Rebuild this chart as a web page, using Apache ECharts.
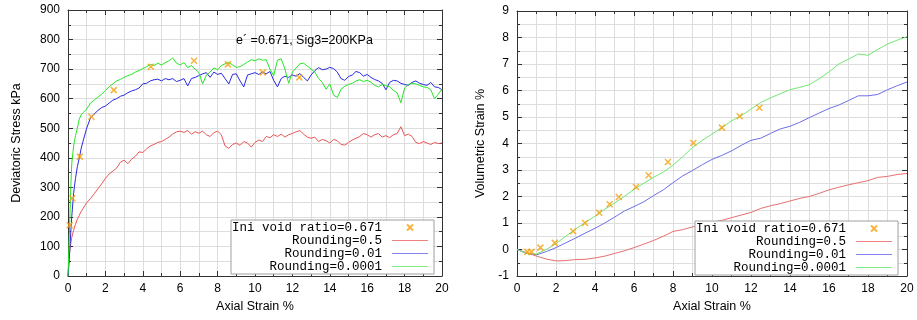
<!DOCTYPE html>
<html>
<head>
<meta charset="utf-8">
<script src="https://cdn.jsdelivr.net/npm/echarts@6/dist/echarts.min.js"></script>
<style>
html, body { margin: 0; padding: 0; background: #fff; }
#chart { width: 917px; height: 320px; }
</style>
</head>
<body>
<div id="chart"></div>
<script>
// left plot: deviatoric stress (kPa) vs axial strain (%)
var strainL = [0, 0.05, 0.1, 0.15, 0.2, 0.3, 0.4, 0.5, 0.6, 0.7, 0.8, 1.0,
  1.2, 1.4, 1.6, 1.8, 2.0, 2.2, 2.4, 2.6, 2.8, 3.0, 3.2, 3.4, 3.6, 3.8, 4.0,
  4.2, 4.4, 4.6, 4.8, 5.0, 5.2, 5.4, 5.6, 5.8, 6.0, 6.2, 6.4, 6.6, 6.8, 7.0,
  7.2, 7.4, 7.6, 7.8, 8.0, 8.2, 8.4, 8.6, 8.8, 9.0, 9.2, 9.4, 9.6, 9.8, 10.0,
  10.2, 10.4, 10.6, 10.8, 11.0, 11.2, 11.4, 11.6, 11.8, 12.0, 12.2, 12.4, 12.6, 12.8, 13.0,
  13.2, 13.4, 13.6, 13.8, 14.0, 14.2, 14.4, 14.6, 14.8, 15.0, 15.2, 15.4, 15.6, 15.8, 16.0,
  16.2, 16.4, 16.6, 16.8, 17.0, 17.2, 17.4, 17.6, 17.8, 18.0, 18.2, 18.4, 18.6, 18.8, 19.0,
  19.2, 19.4, 19.6, 19.8, 20.0];

var stressR05 = [0, 60, 88, 110, 130, 155, 175, 192, 205, 218, 228, 248,
  262, 278, 295, 312, 330, 345, 355, 365, 385, 392, 380, 395, 405, 420, 418,
  430, 440, 445, 452, 455, 462, 470, 480, 488, 490, 486, 492, 480, 488, 483,
  490, 478, 472, 485, 490, 478, 440, 432, 445, 450, 442, 455, 450, 436, 452,
  460, 455, 472, 468, 478, 472, 480, 470, 478, 482, 488, 492, 480, 470, 466,
  470, 455, 462, 458, 450, 462, 458, 445, 443, 452, 460, 466, 472, 482, 478,
  470, 478, 482, 470, 475, 468, 478, 482, 505, 475, 480, 472, 452, 448, 455,
  450, 445, 452, 448, 450];

var stressR001 = [0, 40, 90, 150, 200, 280, 330, 370, 398, 430, 455, 500,
  535, 548, 560, 570, 575, 585, 595, 600, 608, 612, 620, 626, 630, 636, 650,
  652, 660, 664, 666, 660, 668, 664, 668, 658, 662, 668, 643, 668, 672, 678,
  684, 688, 672, 690, 682, 686, 668, 650, 682, 684, 660, 640, 680, 684, 688,
  682, 690, 684, 692, 662, 640, 668, 676, 672, 680, 676, 685, 672, 660, 680,
  695, 705, 698, 700, 706, 702, 690, 668, 662, 675, 680, 692, 688, 676, 682,
  672, 665, 660, 652, 630, 655, 662, 660, 652, 648, 645, 655, 660, 652, 648,
  645, 655, 640, 638, 630];

var stressR00001 = [0, 100, 200, 300, 380, 440, 475, 500, 530, 545, 552, 565,
  585, 595, 605, 615, 628, 640, 650, 660, 665, 672, 678, 682, 690, 695, 702,
  708, 716, 712, 720, 714, 722, 728, 738, 720, 714, 722, 705, 712, 700, 688,
  650, 680, 690, 704, 698, 712, 718, 722, 714, 706, 708, 716, 724, 732, 728,
  735, 730, 732, 700, 678, 730, 735, 700, 652, 690, 704, 718, 720, 710, 700,
  690, 668, 655, 632, 650, 612, 604, 632, 642, 648, 652, 660, 664, 658, 662,
  656, 645, 640, 648, 644, 640, 628, 620, 586, 636, 648, 652, 650, 645, 640,
  638, 630, 600, 615, 632];

var iniStrainL = [0.09, 0.23, 0.63, 1.25, 2.45, 4.43, 6.74, 8.55, 10.42, 12.37];
var iniStressL = [172, 263, 404, 539, 629, 708, 728, 716, 689, 672];

// right plot: volumetric strain (%) vs axial strain (%)
var strainR = [0, 0.5, 1, 1.5, 2, 2.5, 3, 3.5, 4, 4.5, 5, 5.5, 6, 6.5, 7, 7.5,
  8, 8.5, 9, 9.5, 10, 10.5, 11, 11.5, 12, 12.5, 13, 13.5, 14, 14.5, 15, 15.5,
  16, 16.5, 17, 17.5, 18, 18.5, 19, 19.5, 20];

var volR05 = [0, -0.12, -0.25, -0.36, -0.43, -0.42, -0.38, -0.37, -0.32, -0.25, -0.15,
  -0.05, 0.07, 0.2, 0.34, 0.5, 0.68, 0.75, 0.85, 0.95, 1.03, 1.1, 1.2, 1.3, 1.4,
  1.55, 1.65, 1.73, 1.83, 1.93, 2.0, 2.12, 2.25, 2.35, 2.44, 2.52, 2.6, 2.72, 2.76,
  2.83, 2.87];

var volR001 = [0, -0.15, -0.2, -0.08, 0.07, 0.25, 0.43, 0.62, 0.8, 1.0, 1.22,
  1.45, 1.62, 1.8, 2.03, 2.25, 2.52, 2.78, 2.98, 3.2, 3.4, 3.55, 3.72, 3.93, 4.12,
  4.2, 4.38, 4.55, 4.65, 4.8, 4.98, 5.15, 5.32, 5.45, 5.62, 5.8, 5.8, 5.85, 6.03,
  6.18, 6.32];

var volR00001 = [0, -0.15, -0.17, 0.0, 0.22, 0.5, 0.77, 1.02, 1.26, 1.52, 1.75,
  2.0, 2.27, 2.5, 2.72, 2.92, 3.18, 3.5, 3.85, 4.12, 4.35, 4.6, 4.85, 5.05, 5.3,
  5.55, 5.72, 5.88, 6.03, 6.12, 6.22, 6.45, 6.7, 7.0, 7.18, 7.38, 7.33, 7.55, 7.75,
  7.9, 8.03];

var iniStrainR = [0.53, 0.74, 1.2, 1.94, 2.88, 3.49, 4.21, 4.75, 5.22, 6.1, 6.75, 7.74, 9.04, 10.51, 11.42, 12.43];
var iniVolR = [-0.09, -0.09, 0.07, 0.25, 0.69, 1.0, 1.39, 1.71, 1.98, 2.36, 2.8, 3.3, 4.02, 4.6, 5.03, 5.35];

var xTicks = { min: 0, max: 20, interval: 2 };
var yTicksL = { min: 0, max: 900, interval: 100 };
var yTicksR = { min: -1, max: 9, interval: 1 };

function zip(xs, ys) {
  return xs.map(function (x, i) { return [x, ys[i]]; });
}

var font = 'Liberation Sans, Arial, sans-serif';
var mono = 'Liberation Mono, Courier New, monospace';
var borderColor = '#333';
var gridColor = '#dedede';

function axis(gridIndex, position, ticks, label, name, nameGap) {
  var main = position === 'left' || position === 'bottom';
  return {
    type: 'value',
    gridIndex: gridIndex,
    position: position,
    min: ticks.min,
    max: ticks.max,
    interval: ticks.interval,
    name: main ? name : '',
    nameLocation: 'middle',
    nameGap: nameGap,
    nameTextStyle: { color: '#000', fontSize: 12.5, fontFamily: font },
    axisLine: { show: true, onZero: false, lineStyle: { color: borderColor, width: 1 } },
    axisTick: { show: true, inside: true, length: 5, lineStyle: { color: borderColor } },
    minorTick: { show: true, splitNumber: 2, length: 3, lineStyle: { color: borderColor } },
    axisLabel: { show: main, color: '#000', fontSize: 12, fontFamily: font, margin: label },
    splitLine: { show: main, lineStyle: { color: gridColor, width: 1 } },
    minorSplitLine: { show: main, lineStyle: { color: gridColor, width: 1 } }
  };
}

var red = '#e85656', blue = '#2a2ae0', green = '#26e626';
var redR = '#e87070', blueR = '#6e6ee8', greenR = '#70e870';
var orange = '#f5a00c';
var xMark = 'path://M0,0L10,10M10,0L0,10';
var lineIcon = 'path://M0,0L36,0L36,1.2L0,1.2Z';

function lineSeries(name, data, color, xi, yi) {
  return {
    type: 'line', name: name, data: data,
    xAxisIndex: xi, yAxisIndex: yi,
    symbol: 'none', smooth: false,
    lineStyle: { color: color, width: 1 },
    itemStyle: { color: color },
    z: 3
  };
}

function markerSeries(data, xi, yi) {
  return {
    type: 'scatter', name: 'Ini void ratio=0.671', data: data,
    xAxisIndex: xi, yAxisIndex: yi,
    symbol: xMark, symbolSize: 6,
    itemStyle: { color: orange, borderColor: orange, borderWidth: 1.5 },
    z: 5
  };
}

function legend(left, top) {
  return {
    orient: 'vertical', align: 'right',
    left: left, top: top,
    itemWidth: 36, itemHeight: 6, itemGap: 0,
    padding: [1, 6, 1, 1],
    backgroundColor: '#fff',
    borderColor: '#a0a0a0', borderWidth: 1,
    textStyle: { fontFamily: mono, fontSize: 12.5, color: '#000', lineHeight: 12.6, padding: [0, 5, 0, 0] },
    data: [
      'Ini void ratio=0.671',
      { name: 'Rounding=0.5', icon: lineIcon, itemStyle: { color: '#ee8080' } },
      { name: 'Rounding=0.01', icon: lineIcon, itemStyle: { color: '#8080ee' } },
      { name: 'Rounding=0.0001', icon: lineIcon, itemStyle: { color: '#80ee80' } }
    ]
  };
}

var chart = echarts.init(document.getElementById('chart'));
chart.setOption({
  animation: false,
  backgroundColor: '#fff',
  title: {
    text: 'e\u00b4 =0.671, Sig3=200KPa',
    left: 231, top: 29,
    textStyle: { fontFamily: font, fontSize: 12.5, fontWeight: 'normal', color: '#000' }
  },
  grid: [
    { left: 68, top: 10, width: 374, height: 266 },
    { left: 517, top: 11, width: 390, height: 265 }
  ],
  legend: [legend(231, 220), legend(695, 221)],
  xAxis: [
    axis(0, 'bottom', xTicks, 7, 'Axial Strain %', 24),
    axis(0, 'top', xTicks, 7, '', 0),
    axis(1, 'bottom', xTicks, 7, 'Axial Strain %', 24),
    axis(1, 'top', xTicks, 7, '', 0)
  ],
  yAxis: [
    axis(0, 'left', yTicksL, 8, 'Deviatoric Stress kPa', 45),
    axis(0, 'right', yTicksL, 8, '', 0),
    axis(1, 'left', yTicksR, 8, 'Volumetric Strain %', 30),
    axis(1, 'right', yTicksR, 8, '', 0)
  ],
  series: [
    markerSeries(zip(iniStrainL, iniStressL), 0, 0),
    lineSeries('Rounding=0.5', zip(strainL, stressR05), red, 0, 0),
    lineSeries('Rounding=0.01', zip(strainL, stressR001), blue, 0, 0),
    lineSeries('Rounding=0.0001', zip(strainL, stressR00001), green, 0, 0),
    markerSeries(zip(iniStrainR, iniVolR), 2, 2),
    lineSeries('Rounding=0.5', zip(strainR, volR05), redR, 2, 2),
    lineSeries('Rounding=0.01', zip(strainR, volR001), blueR, 2, 2),
    lineSeries('Rounding=0.0001', zip(strainR, volR00001), greenR, 2, 2)
  ]
});
</script>
</body>
</html>
